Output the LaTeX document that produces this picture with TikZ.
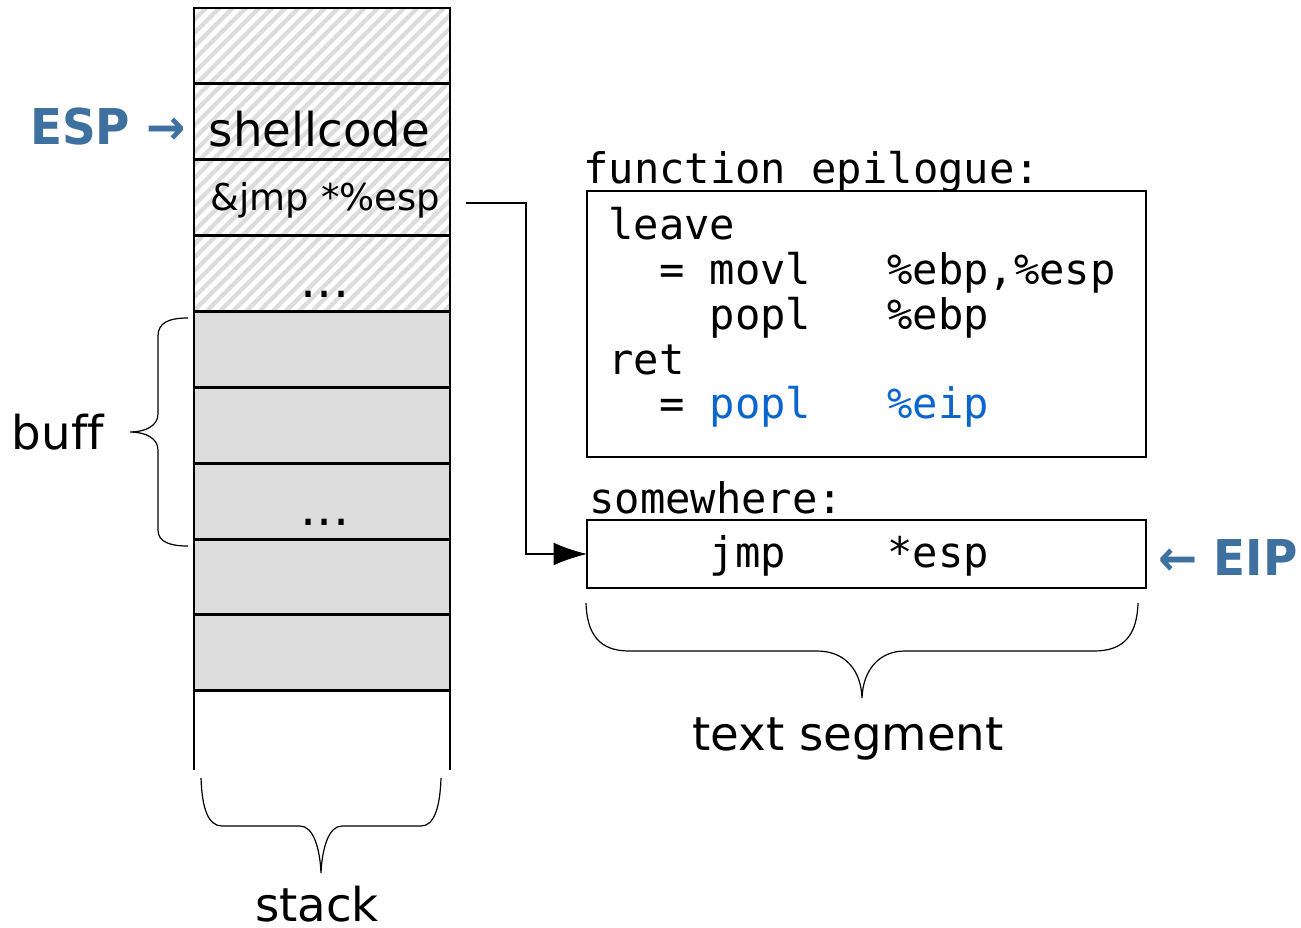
\documentclass[tikz,border=0pt]{standalone}
\usepackage{graphicx}
\usepackage{fontspec}
\setmainfont{DejaVu Sans}[Ligatures=NoCommon]
\newfontfamily\codefont{DejaVu Sans Mono}
\usetikzlibrary{patterns.meta,arrows.meta}
\definecolor{regblue}{HTML}{3F71A0}
\definecolor{codeblue}{HTML}{0A66CC}
\definecolor{buffgray}{HTML}{DCDCDC}
\definecolor{hatchgray}{HTML}{DCDCDC}

\begin{document}
\begin{tikzpicture}[x=0.75pt,y=-0.75pt,
  cell/.style={draw, line width=2.2pt, minimum width=192pt, minimum height=56.9pt,
               inner sep=0pt, outer sep=0pt, anchor=north},
  usedcell/.style={cell, pattern={Lines[angle=45,distance=7pt,line width=3.2pt]},
                   pattern color=hatchgray},
  freecell/.style={cell, fill=buffgray},
  big/.style={font=\fontsize{35}{42}\selectfont, inner sep=0pt},
  mid/.style={font=\fontsize{27.7}{33}\selectfont, inner sep=0pt},
  dotsty/.style={font=\fontsize{38}{44}\selectfont, inner sep=0pt},
  reg/.style={font=\fontsize{37}{44}\selectfont\bfseries, text=regblue, inner sep=0pt},
  code/.style={font=\codefont\fontsize{31.6}{38}\selectfont, inner sep=0pt, anchor=base west},
  codebox/.style={draw, line width=1.5pt, minimum width=419.25pt, inner sep=0pt, outer sep=0pt},
  conn/.style={line width=0.9pt, black, -{Latex[length=25pt,width=17pt]}},
  brace/.style={line width=0.9pt}
]
% page
\fill[white] (0,0) rectangle (1301,927);

% stack cells
\node[usedcell] (c1) at (322,8) {};
\node[usedcell] (c2) at (c1.south) {};
\node[usedcell] (c3) at (c2.south) {};
\node[usedcell] (c4) at (c3.south) {};
\node[freecell] (c5) at (c4.south) {};
\node[freecell] (c6) at (c5.south) {};
\node[freecell] (c7) at (c6.south) {};
\node[freecell] (c8) at (c7.south) {};
\node[freecell] (c9) at (c8.south) {};
\coordinate (sl) at (194,770);
\coordinate (sr) at (450,770);
\draw[line width=2.2pt] (c9.south west) -- (sl);
\draw[line width=2.2pt] (c9.south east) -- (sr);

% cell contents
\node[big, anchor=base] (shell) at (319.5,147) {shellcode};
\node[mid, anchor=base] (jaddr) at (325.5,211) {\&jmp *\%esp};
\node[dotsty, anchor=base] (d1) at (325,297) {...};
\node[dotsty, anchor=base] (d2) at (325,525) {...};

% register pointers
\node[reg, anchor=base east] (esp) at (186,145) {\scalebox{0.95}[1]{ESP →}};
\node[reg, anchor=base west] (eip) at (1158,575) {\scalebox{0.95}[1]{← EIP}};

% function epilogue
\node[code] (ephead) at (583,184) {function epilogue:};
\node[codebox, minimum height=199.5pt] (epi) at (866.5,324) {};
\node[code] (l1) at (608,239) {leave};
\node[code] (l2) at (608,284) {~~=~movl~~~\%ebp,\%esp};
\node[code] (l3) at (608,329) {~~~~popl~~~\%ebp};
\node[code] (l4) at (608,374) {ret};
\node[code] (l5) at (608,418) {~~=~\textcolor{codeblue}{popl~~~\%eip}};

% jump target
\node[code] (swhead) at (589,513) {somewhere:};
\node[codebox, minimum height=51pt] (jbox) at (866.5,554) {};
\node[code] (jl) at (608,567) {~~~~jmp~~~~*esp};

% return address points at the jump
\coordinate (src) at (466,203);
\coordinate (bend) at (526,203);
\draw[conn] (src) -- (bend) |- (jbox.west);

% buff brace
\draw[brace] (188,318) .. controls (170,318) and (158,322) .. (158,336)
  -- (158,414) .. controls (158,426) and (145,432) .. (130,432)
  .. controls (145,432) and (158,438) .. (158,450)
  -- (158,530) .. controls (158,542) and (170,546) .. (188,546);
\node[big, anchor=base] (buff) at (58,449) {buff};

% stack brace
\draw[brace] (201,778) .. controls (202,808) and (208,826) .. (222,826)
  -- (300,826) .. controls (314,826) and (320,850) .. (321,873)
  .. controls (322,850) and (328,826) .. (342,826)
  -- (421,826) .. controls (434,826) and (440,808) .. (441,778);
\node[big, anchor=base] (stk) at (317,921) {stack};

% text segment brace
\draw[brace] (586,603) .. controls (587,635) and (600,651) .. (629,651)
  -- (817,651) .. controls (845,651) and (861,670) .. (862,698)
  .. controls (863,670) and (879,651) .. (905,651)
  -- (1094,651) .. controls (1124,651) and (1137,635) .. (1138,603);
\node[big, anchor=base] (tseg) at (848,750) {text segment};
\end{tikzpicture}
\end{document}
